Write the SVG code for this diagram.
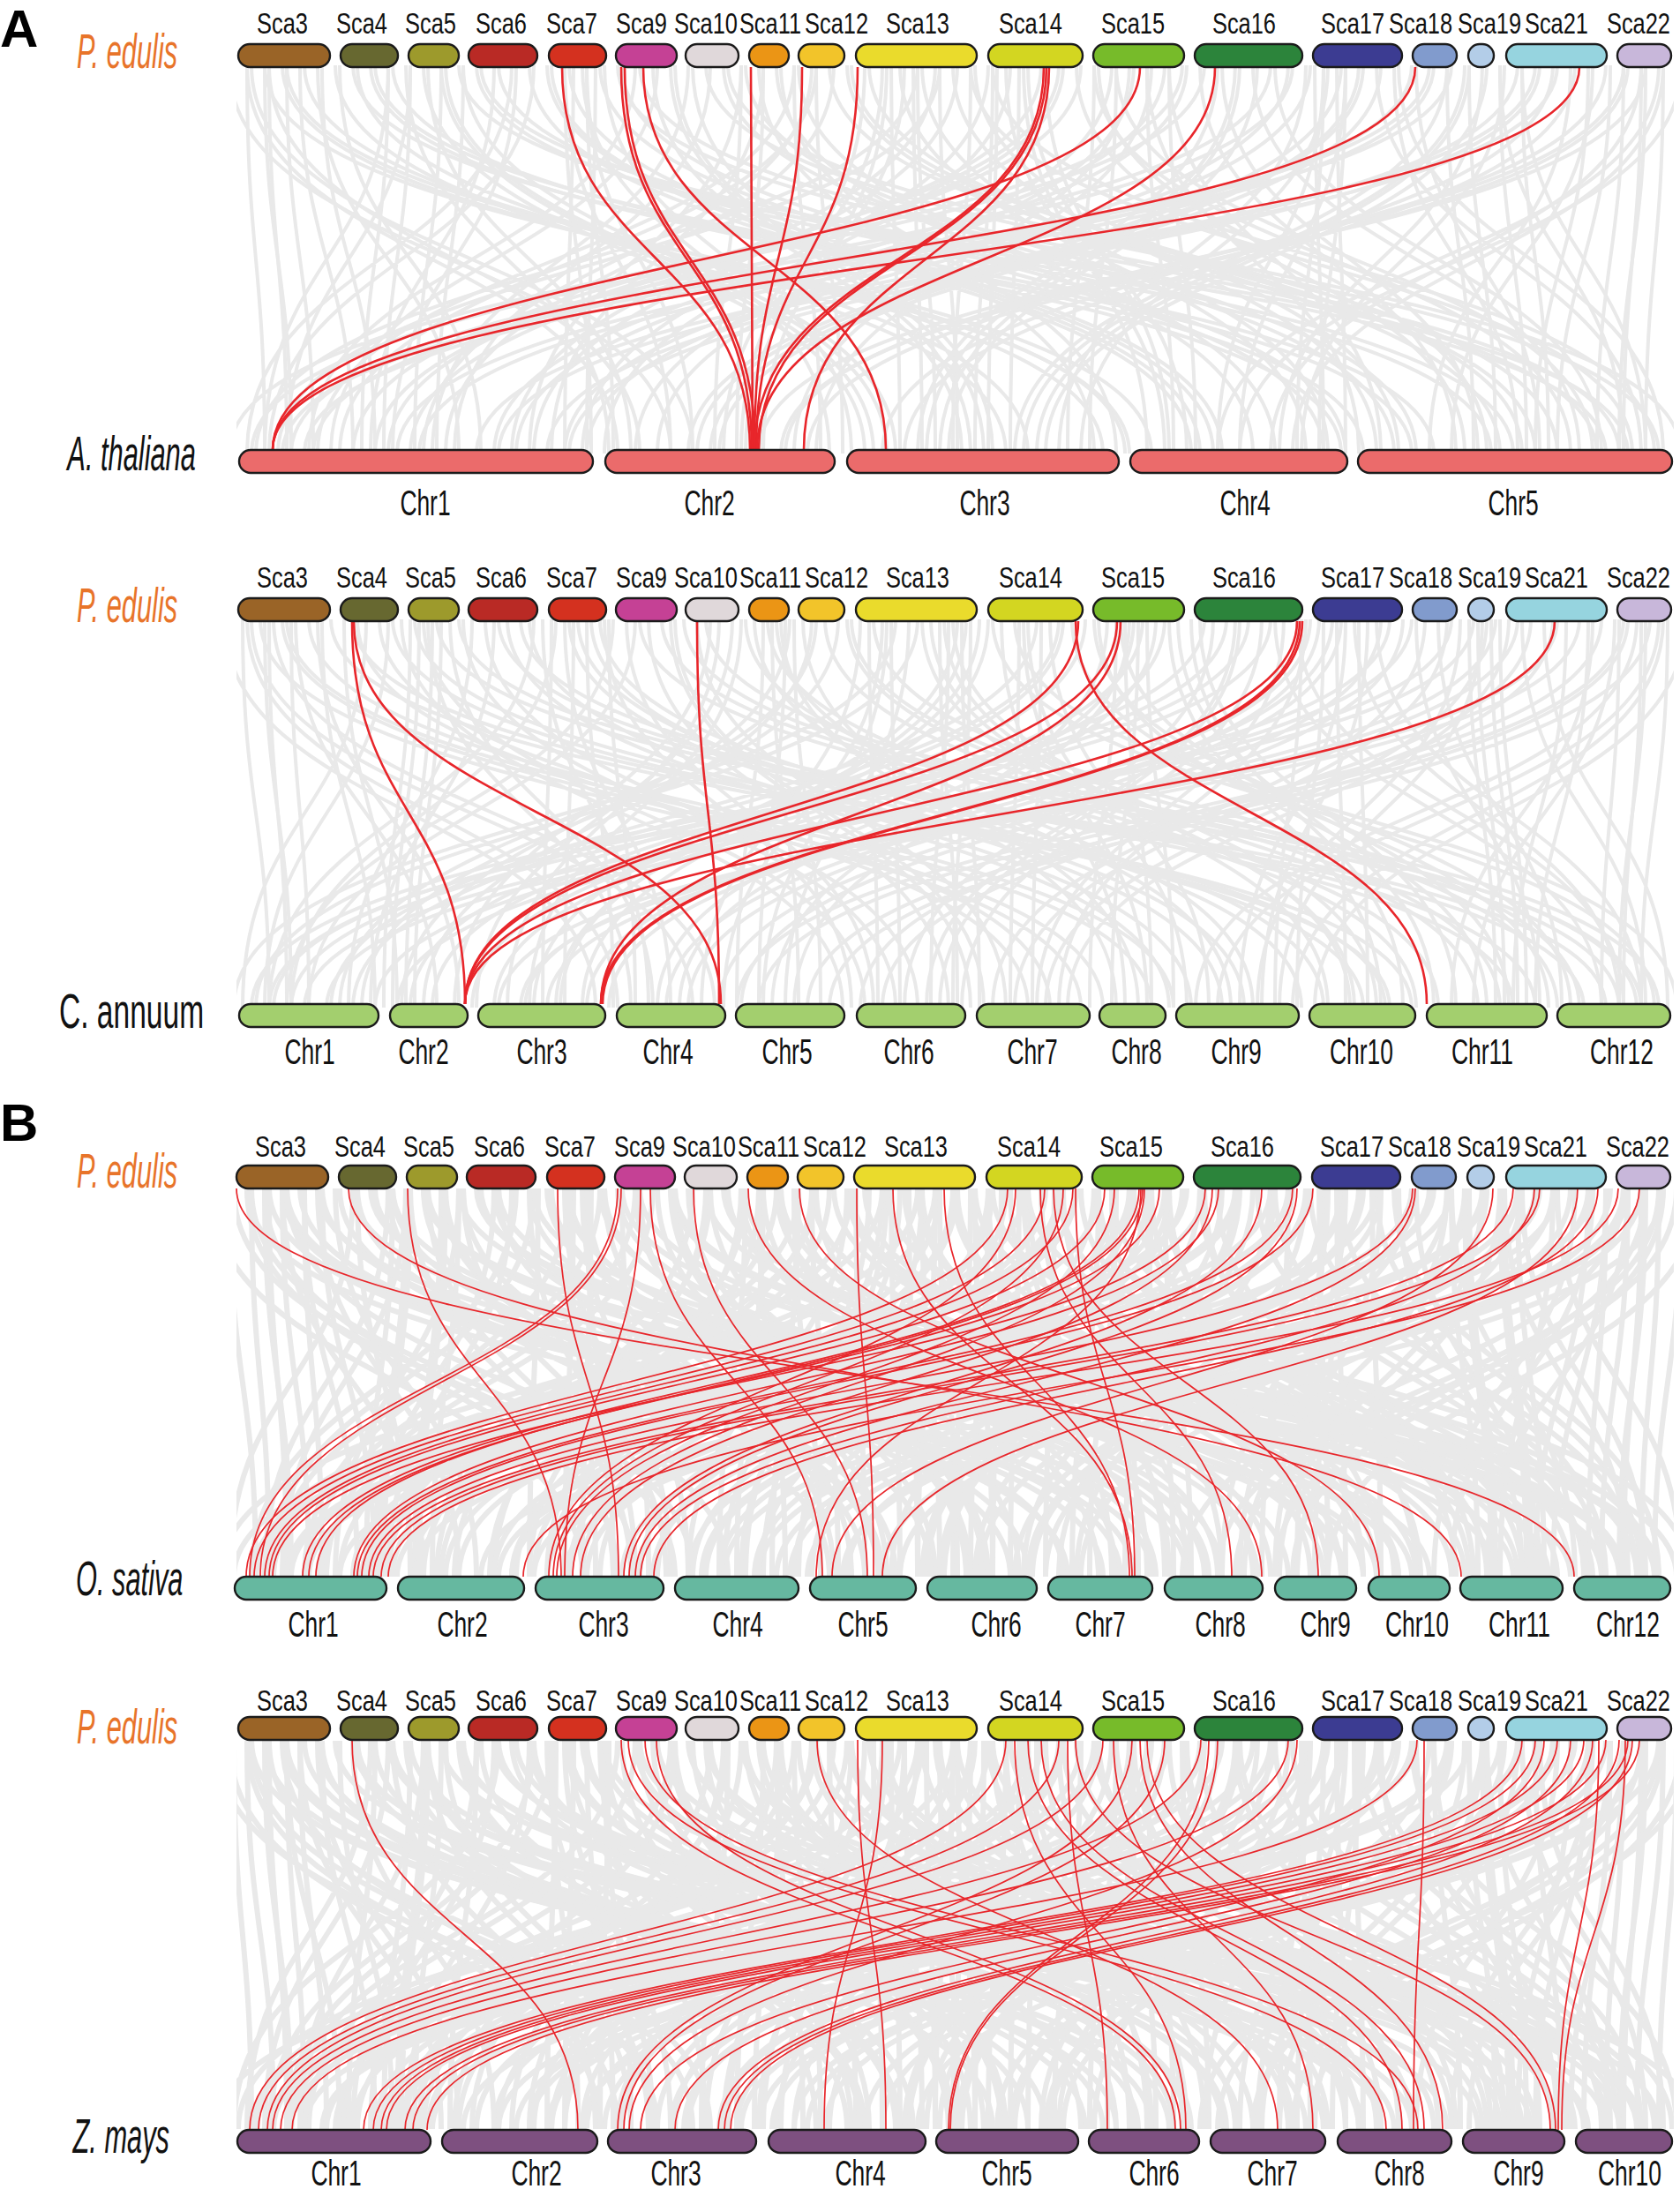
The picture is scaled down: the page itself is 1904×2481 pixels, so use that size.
<svg xmlns="http://www.w3.org/2000/svg" xmlns:xlink="http://www.w3.org/1999/xlink" width="1904" height="2481" viewBox="0 0 1904 2481">
<style>
.bar{stroke:#1b1b1b;stroke-width:2.4}
.sca{font-family:"Liberation Sans",Arial,sans-serif;font-size:33px;text-anchor:middle;fill:#111;transform-box:fill-box;transform-origin:center;transform:scaleX(.77)}
.chr{font-family:"Liberation Sans",Arial,sans-serif;font-size:40px;text-anchor:middle;fill:#111;transform-box:fill-box;transform-origin:center;transform:scaleX(.66)}
.sp{font-family:"Liberation Sans",Arial,sans-serif;font-size:55px;font-style:italic;fill:#111;transform-box:fill-box;transform-origin:0 50%;transform:scaleX(.56)}
.pe{fill:#E8742A}
.up{font-style:normal;transform:scaleX(.61)}
.pl{font-family:"Liberation Sans",Arial,sans-serif;font-size:60px;font-weight:bold;fill:#000}
.ra{fill:none;stroke:#E8262B;stroke-width:2.6}
.rb{fill:none;stroke:#E8262B;stroke-width:1.7}
.s3{fill:#9A6427}.s4{fill:#676830}.s5{fill:#9D9A2C}.s6{fill:#B92A25}.s7{fill:#D4311F}.s9{fill:#C54195}.s10{fill:#E0D8DA}.s11{fill:#EB9515}.s12{fill:#F2C42A}.s13{fill:#EADB2C}.s14{fill:#D3D621}.s15{fill:#77BB2A}.s16{fill:#2C843B}.s17{fill:#3C3C92}.s18{fill:#819BCD}.s19{fill:#B3CDE8}.s21{fill:#96D4DF}.s22{fill:#C8B7DA}
.at{fill:#EB6B6B}.ca{fill:#A3CF6E}.os{fill:#66B8A0}.zm{fill:#7E5080}
</style>
<defs>
<clipPath id="clip"><rect x="268" y="0" width="1629" height="2481"/></clipPath>
<path id="mesh" fill="none" d="M280 0C280 220 700 220 700 440M320 0C320 220 1250 220 1250 440M360 0C360 220 520 220 520 440M400 0C400 220 1600 220 1600 440M440 0C440 220 300 220 300 440M480 0C480 220 980 220 980 440M520 0C520 220 1820 220 1820 440M560 0C560 220 420 220 420 440M600 0C600 220 1350 220 1350 440M640 0C640 220 760 220 760 440M680 0C680 220 1500 220 1500 440M720 0C720 220 350 220 350 440M760 0C760 220 1100 220 1100 440M800 0C800 220 1880 220 1880 440M840 0C840 220 600 220 600 440M880 0C880 220 1420 220 1420 440M920 0C920 220 480 220 480 440M960 0C960 220 1700 220 1700 440M1000 0C1000 220 820 220 820 440M1040 0C1040 220 290 220 290 440M1080 0C1080 220 1560 220 1560 440M1120 0C1120 220 660 220 660 440M1160 0C1160 220 1300 220 1300 440M1200 0C1200 220 400 220 400 440M1240 0C1240 220 1780 220 1780 440M1280 0C1280 220 900 220 900 440M1320 0C1320 220 560 220 560 440M1360 0C1360 220 1650 220 1650 440M1400 0C1400 220 1050 220 1050 440M1440 0C1440 220 330 220 330 440M1480 0C1480 220 1200 220 1200 440M1520 0C1520 220 780 220 780 440M1560 0C1560 220 1860 220 1860 440M1600 0C1600 220 450 220 450 440M1640 0C1640 220 1150 220 1150 440M1680 0C1680 220 1450 220 1450 440M1720 0C1720 220 620 220 620 440M1760 0C1760 220 1000 220 1000 440M1800 0C1800 220 1740 220 1740 440M1840 0C1840 220 860 220 860 440M1880 0C1880 220 1380 220 1380 440M300 0C300 220 330 220 330 440M500 0C500 220 470 220 470 440M900 0C900 220 930 220 930 440M1100 0C1100 220 1080 220 1080 440M1300 0C1300 220 1330 220 1330 440M1500 0C1500 220 1470 220 1470 440M1700 0C1700 220 1730 220 1730 440M1860 0C1860 220 1840 220 1840 440M650 0C650 220 640 220 640 440M1010 0C1010 220 1020 220 1020 440"/>
</defs>
<rect width="1904" height="2481" fill="#fff"/>

<g id="background-links" clip-path="url(#clip)" fill="none" stroke="#E9E9E9">
  <g stroke-width="4">
    <use href="#mesh" transform="translate(0,74)"/>
    <use href="#mesh" transform="translate(2165,74) scale(-1,1)"/>
    <use href="#mesh" transform="translate(25,74)"/>
    <use href="#mesh" transform="translate(2140,74) scale(-1,1)"/>
    <use href="#mesh" transform="translate(0,702)"/>
    <use href="#mesh" transform="translate(2165,702) scale(-1,1)"/>
    <use href="#mesh" transform="translate(-25,702)"/>
    <use href="#mesh" transform="translate(2190,702) scale(-1,1)"/>
  </g>
  <g stroke-width="6">
    <use href="#mesh" transform="translate(0,1347)"/>
    <use href="#mesh" transform="translate(2165,1347) scale(-1,1)"/>
    <use href="#mesh" transform="translate(20,1347)"/>
    <use href="#mesh" transform="translate(2145,1347) scale(-1,1)"/>
    <use href="#mesh" transform="translate(-40,1347)"/>
    <use href="#mesh" transform="translate(2205,1347) scale(-1,1)"/>
    <use href="#mesh" transform="translate(0,1973)"/>
    <use href="#mesh" transform="translate(2165,1973) scale(-1,1)"/>
    <use href="#mesh" transform="translate(-20,1973)"/>
    <use href="#mesh" transform="translate(2185,1973) scale(-1,1)"/>
    <use href="#mesh" transform="translate(40,1973)"/>
    <use href="#mesh" transform="translate(2125,1973) scale(-1,1)"/>
  </g>
</g>

<g id="connectors">
  <g id="links-A1" class="ra">
    <path d="M637 76C637 293 850 293 850 510"/>
    <path d="M704 76C704 293 852 293 852 510"/>
    <path d="M708 76C708 293 856 293 856 510"/>
    <path d="M729 76C729 293 1004 293 1004 510"/>
    <path d="M851 76C851 293 853 293 853 510"/>
    <path d="M909 76C909 293 855 293 855 510"/>
    <path d="M972 76C972 293 857 293 857 510"/>
    <path d="M1183 76C1183 293 855 293 855 510"/>
    <path d="M1186 76C1186 293 860 293 860 510"/>
    <path d="M1189 76C1189 293 911 293 911 510"/>
    <path d="M1292 76C1292 293 309 293 309 510"/>
    <path d="M1377 76C1377 293 858 293 858 510"/>
    <path d="M1604 76C1604 293 309 293 309 510"/>
    <path d="M1790 76C1790 293 309 293 309 510"/>
  </g>
  <g id="links-A2" class="ra">
    <path d="M399 704C399 921 527 921 527 1138"/>
    <path d="M401 704C401 921 817 921 817 1138"/>
    <path d="M790 704C790 921 815 921 815 1138"/>
    <path d="M1219 704C1219 921 1617 921 1617 1138"/>
    <path d="M1222 704C1222 921 527 921 527 1138"/>
    <path d="M1266 704C1266 921 527 921 527 1138"/>
    <path d="M1270 704C1270 921 681 921 681 1138"/>
    <path d="M1470 704C1470 921 527 921 527 1138"/>
    <path d="M1473 704C1473 921 681 921 681 1138"/>
    <path d="M1476 704C1476 921 683 921 683 1138"/>
    <path d="M1762 704C1762 921 527 921 527 1138"/>
  </g>
  <g id="links-B1" class="rb">
    <path d="M268 1347C268 1567 1784 1567 1784 1787"/>
    <path d="M395 1347C395 1567 1656 1567 1656 1787"/>
    <path d="M462 1347C462 1567 636 1567 636 1787"/>
    <path d="M632 1347C632 1567 701 1567 701 1787"/>
    <path d="M700 1347C700 1567 283 1567 283 1787"/>
    <path d="M704 1347C704 1567 295 1567 295 1787"/>
    <path d="M726 1347C726 1567 640 1567 640 1787"/>
    <path d="M737 1347C737 1567 932 1567 932 1787"/>
    <path d="M786 1347C786 1567 983 1567 983 1787"/>
    <path d="M848 1347C848 1567 1430 1567 1430 1787"/>
    <path d="M906 1347C906 1567 1563 1567 1563 1787"/>
    <path d="M971 1347C971 1567 990 1567 990 1787"/>
    <path d="M1012 1347C1012 1567 1283 1567 1283 1787"/>
    <path d="M1070 1347C1070 1567 1280 1567 1280 1787"/>
    <path d="M1142 1347C1142 1567 279 1567 279 1787"/>
    <path d="M1151 1347C1151 1567 622 1567 622 1787"/>
    <path d="M1179 1347C1179 1567 1396 1567 1396 1787"/>
    <path d="M1184 1347C1184 1567 288 1567 288 1787"/>
    <path d="M1194 1347C1194 1567 1494 1567 1494 1787"/>
    <path d="M1205 1347C1205 1567 627 1567 627 1787"/>
    <path d="M1216 1347C1216 1567 300 1567 300 1787"/>
    <path d="M1219 1347C1219 1567 1286 1567 1286 1787"/>
    <path d="M1252 1347C1252 1567 305 1567 305 1787"/>
    <path d="M1263 1347C1263 1567 631 1567 631 1787"/>
    <path d="M1291 1347C1291 1567 343 1567 343 1787"/>
    <path d="M1293 1347C1293 1567 925 1567 925 1787"/>
    <path d="M1295 1347C1295 1567 358 1567 358 1787"/>
    <path d="M1297 1347C1297 1567 649 1567 649 1787"/>
    <path d="M1314 1347C1314 1567 350 1567 350 1787"/>
    <path d="M1366 1347C1366 1567 309 1567 309 1787"/>
    <path d="M1374 1347C1374 1567 658 1567 658 1787"/>
    <path d="M1381 1347C1381 1567 401 1567 401 1787"/>
    <path d="M1430 1347C1430 1567 707 1567 707 1787"/>
    <path d="M1465 1347C1465 1567 405 1567 405 1787"/>
    <path d="M1470 1347C1470 1567 713 1567 713 1787"/>
    <path d="M1488 1347C1488 1567 410 1567 410 1787"/>
    <path d="M1601 1347C1601 1567 418 1567 418 1787"/>
    <path d="M1604 1347C1604 1567 720 1567 720 1787"/>
    <path d="M1692 1347C1692 1567 943 1567 943 1787"/>
    <path d="M1715 1347C1715 1567 423 1567 423 1787"/>
    <path d="M1739 1347C1739 1567 726 1567 726 1787"/>
    <path d="M1745 1347C1745 1567 432 1567 432 1787"/>
    <path d="M1788 1347C1788 1567 1000 1567 1000 1787"/>
    <path d="M1811 1347C1811 1567 741 1567 741 1787"/>
    <path d="M1834 1347C1834 1567 440 1567 440 1787"/>
    <path d="M1858 1347C1858 1567 593 1567 593 1787"/>
  </g>
  <g id="links-B2" class="rb">
    <path d="M399 1972C399 2193 655 2193 655 2414"/>
    <path d="M704 1972C704 2193 1332 2193 1332 2414"/>
    <path d="M712 1972C712 2193 1571 2193 1571 2414"/>
    <path d="M731 1972C731 2193 1607 2193 1607 2414"/>
    <path d="M744 1972C744 2193 1338 2193 1338 2414"/>
    <path d="M926 1972C926 2193 1448 2193 1448 2414"/>
    <path d="M972 1972C972 2193 1004 2193 1004 2414"/>
    <path d="M1000 1972C1000 2193 934 2193 934 2414"/>
    <path d="M1140 1972C1140 2193 283 2193 283 2414"/>
    <path d="M1150 1972C1150 2193 1344 2193 1344 2414"/>
    <path d="M1165 1972C1165 2193 1589 2193 1589 2414"/>
    <path d="M1180 1972C1180 2193 1614 2193 1614 2414"/>
    <path d="M1200 1972C1200 2193 293 2193 293 2414"/>
    <path d="M1210 1972C1210 2193 1255 2193 1255 2414"/>
    <path d="M1219 1972C1219 2193 1757 2193 1757 2414"/>
    <path d="M1250 1972C1250 2193 303 2193 303 2414"/>
    <path d="M1262 1972C1262 2193 1488 2193 1488 2414"/>
    <path d="M1283 1972C1283 2193 700 2193 700 2414"/>
    <path d="M1292 1972C1292 2193 1635 2193 1635 2414"/>
    <path d="M1300 1972C1300 2193 1763 2193 1763 2414"/>
    <path d="M1320 1972C1320 2193 707 2193 707 2414"/>
    <path d="M1361 1972C1361 2193 309 2193 309 2414"/>
    <path d="M1370 1972C1370 2193 1075 2193 1075 2414"/>
    <path d="M1380 1972C1380 2193 1077 2193 1077 2414"/>
    <path d="M1460 1972C1460 2193 318 2193 318 2414"/>
    <path d="M1470 1972C1470 2193 713 2193 713 2414"/>
    <path d="M1606 1972C1606 2193 331 2193 331 2414"/>
    <path d="M1614 1972C1614 2193 1602 2193 1602 2414"/>
    <path d="M1725 1972C1725 2193 412 2193 412 2414"/>
    <path d="M1740 1972C1740 2193 423 2193 423 2414"/>
    <path d="M1750 1972C1750 2193 726 2193 726 2414"/>
    <path d="M1765 1972C1765 2193 432 2193 432 2414"/>
    <path d="M1780 1972C1780 2193 765 2193 765 2414"/>
    <path d="M1795 1972C1795 2193 438 2193 438 2414"/>
    <path d="M1805 1972C1805 2193 814 2193 814 2414"/>
    <path d="M1812 1972C1812 2193 1766 2193 1766 2414"/>
    <path d="M1820 1972C1820 2193 459 2193 459 2414"/>
    <path d="M1835 1972C1835 2193 821 2193 821 2414"/>
    <path d="M1842 1972C1842 2193 1770 2193 1770 2414"/>
    <path d="M1845 1972C1845 2193 468 2193 468 2414"/>
    <path d="M1850 1972C1850 2193 828 2193 828 2414"/>
    <path d="M1858 1972C1858 2193 484 2193 484 2414"/>
  </g>
</g>

<!-- Panel labels and species -->
<text class="pl" x="0" y="53">A</text>
<text class="pl" x="0" y="1293">B</text>
<text class="sp pe" x="87" y="77">P. edulis</text>
<text class="sp" x="78" y="533">A. thaliana</text>
<text class="sp pe" x="87" y="705">P. edulis</text>
<text class="sp up" x="67" y="1165">C. annuum</text>
<text class="sp pe" x="87" y="1346">P. edulis</text>
<text class="sp" x="86" y="1808">O. sativa</text>
<text class="sp pe" x="87" y="1976">P. edulis</text>
<text class="sp" x="83" y="2440">Z. mays</text>

<!-- Panel A1: P. edulis -->
<g id="A1-pedulis">
<g id="A1-Sca3"><rect class="bar s3" x="270" y="50" width="104" height="26" rx="13"/><text class="sca" x="320" y="38">Sca3</text></g>
<g id="A1-Sca4"><rect class="bar s4" x="386" y="50" width="65" height="26" rx="13"/><text class="sca" x="410" y="38">Sca4</text></g>
<g id="A1-Sca5"><rect class="bar s5" x="463" y="50" width="57" height="26" rx="13"/><text class="sca" x="488" y="38">Sca5</text></g>
<g id="A1-Sca6"><rect class="bar s6" x="531" y="50" width="78" height="26" rx="13"/><text class="sca" x="568" y="38">Sca6</text></g>
<g id="A1-Sca7"><rect class="bar s7" x="622" y="50" width="65" height="26" rx="13"/><text class="sca" x="648" y="38">Sca7</text></g>
<g id="A1-Sca9"><rect class="bar s9" x="698" y="50" width="69" height="26" rx="13"/><text class="sca" x="727" y="38">Sca9</text></g>
<g id="A1-Sca10"><rect class="bar s10" x="777" y="50" width="60" height="26" rx="13"/><text class="sca" x="800" y="38">Sca10</text></g>
<g id="A1-Sca11"><rect class="bar s11" x="849" y="50" width="45" height="26" rx="13"/><text class="sca" x="873" y="38">Sca11</text></g>
<g id="A1-Sca12"><rect class="bar s12" x="905" y="50" width="52" height="26" rx="13"/><text class="sca" x="948" y="38">Sca12</text></g>
<g id="A1-Sca13"><rect class="bar s13" x="970" y="50" width="137" height="26" rx="13"/><text class="sca" x="1040" y="38">Sca13</text></g>
<g id="A1-Sca14"><rect class="bar s14" x="1120" y="50" width="107" height="26" rx="13"/><text class="sca" x="1168" y="38">Sca14</text></g>
<g id="A1-Sca15"><rect class="bar s15" x="1239" y="50" width="103" height="26" rx="13"/><text class="sca" x="1284" y="38">Sca15</text></g>
<g id="A1-Sca16"><rect class="bar s16" x="1354" y="50" width="122" height="26" rx="13"/><text class="sca" x="1410" y="38">Sca16</text></g>
<g id="A1-Sca17"><rect class="bar s17" x="1488" y="50" width="101" height="26" rx="13"/><text class="sca" x="1533" y="38">Sca17</text></g>
<g id="A1-Sca18"><rect class="bar s18" x="1601" y="50" width="50" height="26" rx="13"/><text class="sca" x="1610" y="38">Sca18</text></g>
<g id="A1-Sca19"><rect class="bar s19" x="1664" y="50" width="29" height="26" rx="13"/><text class="sca" x="1688" y="38">Sca19</text></g>
<g id="A1-Sca21"><rect class="bar s21" x="1707" y="50" width="114" height="26" rx="13"/><text class="sca" x="1764" y="38">Sca21</text></g>
<g id="A1-Sca22"><rect class="bar s22" x="1833" y="50" width="61" height="26" rx="13"/><text class="sca" x="1857" y="38">Sca22</text></g>
</g>

<!-- A. thaliana -->
<g id="A1-athaliana">
<g id="At-Chr1"><rect class="bar at" x="271" y="510" width="401" height="26" rx="13"/><text class="chr" x="482" y="584">Chr1</text></g>
<g id="At-Chr2"><rect class="bar at" x="686" y="510" width="260" height="26" rx="13"/><text class="chr" x="804" y="584">Chr2</text></g>
<g id="At-Chr3"><rect class="bar at" x="960" y="510" width="308" height="26" rx="13"/><text class="chr" x="1116" y="584">Chr3</text></g>
<g id="At-Chr4"><rect class="bar at" x="1281" y="510" width="246" height="26" rx="13"/><text class="chr" x="1411" y="584">Chr4</text></g>
<g id="At-Chr5"><rect class="bar at" x="1539" y="510" width="356" height="26" rx="13"/><text class="chr" x="1715" y="584">Chr5</text></g>
</g>

<!-- Panel A2: P. edulis -->
<g id="A2-pedulis">
<g id="A2-Sca3"><rect class="bar s3" x="270" y="678" width="104" height="26" rx="13"/><text class="sca" x="320" y="666">Sca3</text></g>
<g id="A2-Sca4"><rect class="bar s4" x="386" y="678" width="65" height="26" rx="13"/><text class="sca" x="410" y="666">Sca4</text></g>
<g id="A2-Sca5"><rect class="bar s5" x="463" y="678" width="57" height="26" rx="13"/><text class="sca" x="488" y="666">Sca5</text></g>
<g id="A2-Sca6"><rect class="bar s6" x="531" y="678" width="78" height="26" rx="13"/><text class="sca" x="568" y="666">Sca6</text></g>
<g id="A2-Sca7"><rect class="bar s7" x="622" y="678" width="65" height="26" rx="13"/><text class="sca" x="648" y="666">Sca7</text></g>
<g id="A2-Sca9"><rect class="bar s9" x="698" y="678" width="69" height="26" rx="13"/><text class="sca" x="727" y="666">Sca9</text></g>
<g id="A2-Sca10"><rect class="bar s10" x="777" y="678" width="60" height="26" rx="13"/><text class="sca" x="800" y="666">Sca10</text></g>
<g id="A2-Sca11"><rect class="bar s11" x="849" y="678" width="45" height="26" rx="13"/><text class="sca" x="873" y="666">Sca11</text></g>
<g id="A2-Sca12"><rect class="bar s12" x="905" y="678" width="52" height="26" rx="13"/><text class="sca" x="948" y="666">Sca12</text></g>
<g id="A2-Sca13"><rect class="bar s13" x="970" y="678" width="137" height="26" rx="13"/><text class="sca" x="1040" y="666">Sca13</text></g>
<g id="A2-Sca14"><rect class="bar s14" x="1120" y="678" width="107" height="26" rx="13"/><text class="sca" x="1168" y="666">Sca14</text></g>
<g id="A2-Sca15"><rect class="bar s15" x="1239" y="678" width="103" height="26" rx="13"/><text class="sca" x="1284" y="666">Sca15</text></g>
<g id="A2-Sca16"><rect class="bar s16" x="1354" y="678" width="122" height="26" rx="13"/><text class="sca" x="1410" y="666">Sca16</text></g>
<g id="A2-Sca17"><rect class="bar s17" x="1488" y="678" width="101" height="26" rx="13"/><text class="sca" x="1533" y="666">Sca17</text></g>
<g id="A2-Sca18"><rect class="bar s18" x="1601" y="678" width="50" height="26" rx="13"/><text class="sca" x="1610" y="666">Sca18</text></g>
<g id="A2-Sca19"><rect class="bar s19" x="1664" y="678" width="29" height="26" rx="13"/><text class="sca" x="1688" y="666">Sca19</text></g>
<g id="A2-Sca21"><rect class="bar s21" x="1707" y="678" width="114" height="26" rx="13"/><text class="sca" x="1764" y="666">Sca21</text></g>
<g id="A2-Sca22"><rect class="bar s22" x="1833" y="678" width="61" height="26" rx="13"/><text class="sca" x="1857" y="666">Sca22</text></g>
</g>

<!-- C. annuum -->
<g id="A2-cannuum">
<g id="Ca-Chr1"><rect class="bar ca" x="271" y="1138" width="158" height="26" rx="13"/><text class="chr" x="351" y="1206">Chr1</text></g>
<g id="Ca-Chr2"><rect class="bar ca" x="442" y="1138" width="88" height="26" rx="13"/><text class="chr" x="480" y="1206">Chr2</text></g>
<g id="Ca-Chr3"><rect class="bar ca" x="542" y="1138" width="144" height="26" rx="13"/><text class="chr" x="614" y="1206">Chr3</text></g>
<g id="Ca-Chr4"><rect class="bar ca" x="699" y="1138" width="123" height="26" rx="13"/><text class="chr" x="757" y="1206">Chr4</text></g>
<g id="Ca-Chr5"><rect class="bar ca" x="834" y="1138" width="123" height="26" rx="13"/><text class="chr" x="892" y="1206">Chr5</text></g>
<g id="Ca-Chr6"><rect class="bar ca" x="971" y="1138" width="123" height="26" rx="13"/><text class="chr" x="1030" y="1206">Chr6</text></g>
<g id="Ca-Chr7"><rect class="bar ca" x="1107" y="1138" width="128" height="26" rx="13"/><text class="chr" x="1170" y="1206">Chr7</text></g>
<g id="Ca-Chr8"><rect class="bar ca" x="1246" y="1138" width="75" height="26" rx="13"/><text class="chr" x="1288" y="1206">Chr8</text></g>
<g id="Ca-Chr9"><rect class="bar ca" x="1333" y="1138" width="139" height="26" rx="13"/><text class="chr" x="1401" y="1206">Chr9</text></g>
<g id="Ca-Chr10"><rect class="bar ca" x="1484" y="1138" width="120" height="26" rx="13"/><text class="chr" x="1543" y="1206">Chr10</text></g>
<g id="Ca-Chr11"><rect class="bar ca" x="1617" y="1138" width="136" height="26" rx="13"/><text class="chr" x="1680" y="1206">Chr11</text></g>
<g id="Ca-Chr12"><rect class="bar ca" x="1765" y="1138" width="128" height="26" rx="13"/><text class="chr" x="1838" y="1206">Chr12</text></g>
</g>

<!-- Panel B1: P. edulis -->
<g id="B1-pedulis">
<g id="B1-Sca3"><rect class="bar s3" x="268" y="1321" width="104" height="26" rx="13"/><text class="sca" x="318" y="1311">Sca3</text></g>
<g id="B1-Sca4"><rect class="bar s4" x="384" y="1321" width="65" height="26" rx="13"/><text class="sca" x="408" y="1311">Sca4</text></g>
<g id="B1-Sca5"><rect class="bar s5" x="461" y="1321" width="57" height="26" rx="13"/><text class="sca" x="486" y="1311">Sca5</text></g>
<g id="B1-Sca6"><rect class="bar s6" x="529" y="1321" width="78" height="26" rx="13"/><text class="sca" x="566" y="1311">Sca6</text></g>
<g id="B1-Sca7"><rect class="bar s7" x="620" y="1321" width="65" height="26" rx="13"/><text class="sca" x="646" y="1311">Sca7</text></g>
<g id="B1-Sca9"><rect class="bar s9" x="697" y="1321" width="68" height="26" rx="13"/><text class="sca" x="725" y="1311">Sca9</text></g>
<g id="B1-Sca10"><rect class="bar s10" x="776" y="1321" width="59" height="26" rx="13"/><text class="sca" x="798" y="1311">Sca10</text></g>
<g id="B1-Sca11"><rect class="bar s11" x="847" y="1321" width="46" height="26" rx="13"/><text class="sca" x="871" y="1311">Sca11</text></g>
<g id="B1-Sca12"><rect class="bar s12" x="904" y="1321" width="52" height="26" rx="13"/><text class="sca" x="946" y="1311">Sca12</text></g>
<g id="B1-Sca13"><rect class="bar s13" x="968" y="1321" width="137" height="26" rx="13"/><text class="sca" x="1038" y="1311">Sca13</text></g>
<g id="B1-Sca14"><rect class="bar s14" x="1118" y="1321" width="108" height="26" rx="13"/><text class="sca" x="1166" y="1311">Sca14</text></g>
<g id="B1-Sca15"><rect class="bar s15" x="1238" y="1321" width="103" height="26" rx="13"/><text class="sca" x="1282" y="1311">Sca15</text></g>
<g id="B1-Sca16"><rect class="bar s16" x="1353" y="1321" width="121" height="26" rx="13"/><text class="sca" x="1408" y="1311">Sca16</text></g>
<g id="B1-Sca17"><rect class="bar s17" x="1487" y="1321" width="100" height="26" rx="13"/><text class="sca" x="1532" y="1311">Sca17</text></g>
<g id="B1-Sca18"><rect class="bar s18" x="1600" y="1321" width="50" height="26" rx="13"/><text class="sca" x="1609" y="1311">Sca18</text></g>
<g id="B1-Sca19"><rect class="bar s19" x="1663" y="1321" width="30" height="26" rx="13"/><text class="sca" x="1687" y="1311">Sca19</text></g>
<g id="B1-Sca21"><rect class="bar s21" x="1707" y="1321" width="113" height="26" rx="13"/><text class="sca" x="1763" y="1311">Sca21</text></g>
<g id="B1-Sca22"><rect class="bar s22" x="1832" y="1321" width="61" height="26" rx="13"/><text class="sca" x="1856" y="1311">Sca22</text></g>
</g>

<!-- O. sativa -->
<g id="B1-osativa">
<g id="Os-Chr1"><rect class="bar os" x="266" y="1787" width="172" height="26" rx="13"/><text class="chr" x="355" y="1855">Chr1</text></g>
<g id="Os-Chr2"><rect class="bar os" x="451" y="1787" width="143" height="26" rx="13"/><text class="chr" x="524" y="1855">Chr2</text></g>
<g id="Os-Chr3"><rect class="bar os" x="607" y="1787" width="145" height="26" rx="13"/><text class="chr" x="684" y="1855">Chr3</text></g>
<g id="Os-Chr4"><rect class="bar os" x="765" y="1787" width="140" height="26" rx="13"/><text class="chr" x="836" y="1855">Chr4</text></g>
<g id="Os-Chr5"><rect class="bar os" x="918" y="1787" width="120" height="26" rx="13"/><text class="chr" x="978" y="1855">Chr5</text></g>
<g id="Os-Chr6"><rect class="bar os" x="1051" y="1787" width="124" height="26" rx="13"/><text class="chr" x="1129" y="1855">Chr6</text></g>
<g id="Os-Chr7"><rect class="bar os" x="1188" y="1787" width="118" height="26" rx="13"/><text class="chr" x="1247" y="1855">Chr7</text></g>
<g id="Os-Chr8"><rect class="bar os" x="1320" y="1787" width="111" height="26" rx="13"/><text class="chr" x="1383" y="1855">Chr8</text></g>
<g id="Os-Chr9"><rect class="bar os" x="1445" y="1787" width="92" height="26" rx="13"/><text class="chr" x="1502" y="1855">Chr9</text></g>
<g id="Os-Chr10"><rect class="bar os" x="1551" y="1787" width="92" height="26" rx="13"/><text class="chr" x="1606" y="1855">Chr10</text></g>
<g id="Os-Chr11"><rect class="bar os" x="1655" y="1787" width="116" height="26" rx="13"/><text class="chr" x="1722" y="1855">Chr11</text></g>
<g id="Os-Chr12"><rect class="bar os" x="1784" y="1787" width="109" height="26" rx="13"/><text class="chr" x="1845" y="1855">Chr12</text></g>
</g>

<!-- Panel B2: P. edulis -->
<g id="B2-pedulis">
<g id="B2-Sca3"><rect class="bar s3" x="270" y="1946" width="104" height="26" rx="13"/><text class="sca" x="320" y="1939">Sca3</text></g>
<g id="B2-Sca4"><rect class="bar s4" x="386" y="1946" width="65" height="26" rx="13"/><text class="sca" x="410" y="1939">Sca4</text></g>
<g id="B2-Sca5"><rect class="bar s5" x="463" y="1946" width="57" height="26" rx="13"/><text class="sca" x="488" y="1939">Sca5</text></g>
<g id="B2-Sca6"><rect class="bar s6" x="531" y="1946" width="78" height="26" rx="13"/><text class="sca" x="568" y="1939">Sca6</text></g>
<g id="B2-Sca7"><rect class="bar s7" x="622" y="1946" width="65" height="26" rx="13"/><text class="sca" x="648" y="1939">Sca7</text></g>
<g id="B2-Sca9"><rect class="bar s9" x="698" y="1946" width="69" height="26" rx="13"/><text class="sca" x="727" y="1939">Sca9</text></g>
<g id="B2-Sca10"><rect class="bar s10" x="777" y="1946" width="60" height="26" rx="13"/><text class="sca" x="800" y="1939">Sca10</text></g>
<g id="B2-Sca11"><rect class="bar s11" x="849" y="1946" width="45" height="26" rx="13"/><text class="sca" x="873" y="1939">Sca11</text></g>
<g id="B2-Sca12"><rect class="bar s12" x="905" y="1946" width="52" height="26" rx="13"/><text class="sca" x="948" y="1939">Sca12</text></g>
<g id="B2-Sca13"><rect class="bar s13" x="970" y="1946" width="137" height="26" rx="13"/><text class="sca" x="1040" y="1939">Sca13</text></g>
<g id="B2-Sca14"><rect class="bar s14" x="1120" y="1946" width="107" height="26" rx="13"/><text class="sca" x="1168" y="1939">Sca14</text></g>
<g id="B2-Sca15"><rect class="bar s15" x="1239" y="1946" width="103" height="26" rx="13"/><text class="sca" x="1284" y="1939">Sca15</text></g>
<g id="B2-Sca16"><rect class="bar s16" x="1354" y="1946" width="122" height="26" rx="13"/><text class="sca" x="1410" y="1939">Sca16</text></g>
<g id="B2-Sca17"><rect class="bar s17" x="1488" y="1946" width="101" height="26" rx="13"/><text class="sca" x="1533" y="1939">Sca17</text></g>
<g id="B2-Sca18"><rect class="bar s18" x="1601" y="1946" width="50" height="26" rx="13"/><text class="sca" x="1610" y="1939">Sca18</text></g>
<g id="B2-Sca19"><rect class="bar s19" x="1664" y="1946" width="29" height="26" rx="13"/><text class="sca" x="1688" y="1939">Sca19</text></g>
<g id="B2-Sca21"><rect class="bar s21" x="1707" y="1946" width="114" height="26" rx="13"/><text class="sca" x="1764" y="1939">Sca21</text></g>
<g id="B2-Sca22"><rect class="bar s22" x="1833" y="1946" width="61" height="26" rx="13"/><text class="sca" x="1857" y="1939">Sca22</text></g>
</g>

<!-- Z. mays -->
<g id="B2-zmays">
<g id="Zm-Chr1"><rect class="bar zm" x="269" y="2414" width="219" height="26" rx="13"/><text class="chr" x="381" y="2477">Chr1</text></g>
<g id="Zm-Chr2"><rect class="bar zm" x="501" y="2414" width="176" height="26" rx="13"/><text class="chr" x="608" y="2477">Chr2</text></g>
<g id="Zm-Chr3"><rect class="bar zm" x="689" y="2414" width="168" height="26" rx="13"/><text class="chr" x="766" y="2477">Chr3</text></g>
<g id="Zm-Chr4"><rect class="bar zm" x="871" y="2414" width="178" height="26" rx="13"/><text class="chr" x="975" y="2477">Chr4</text></g>
<g id="Zm-Chr5"><rect class="bar zm" x="1061" y="2414" width="161" height="26" rx="13"/><text class="chr" x="1141" y="2477">Chr5</text></g>
<g id="Zm-Chr6"><rect class="bar zm" x="1234" y="2414" width="125" height="26" rx="13"/><text class="chr" x="1308" y="2477">Chr6</text></g>
<g id="Zm-Chr7"><rect class="bar zm" x="1372" y="2414" width="130" height="26" rx="13"/><text class="chr" x="1442" y="2477">Chr7</text></g>
<g id="Zm-Chr8"><rect class="bar zm" x="1516" y="2414" width="129" height="26" rx="13"/><text class="chr" x="1586" y="2477">Chr8</text></g>
<g id="Zm-Chr9"><rect class="bar zm" x="1658" y="2414" width="115" height="26" rx="13"/><text class="chr" x="1721" y="2477">Chr9</text></g>
<g id="Zm-Chr10"><rect class="bar zm" x="1786" y="2414" width="109" height="26" rx="13"/><text class="chr" x="1847" y="2477">Chr10</text></g>
</g>
</svg>
